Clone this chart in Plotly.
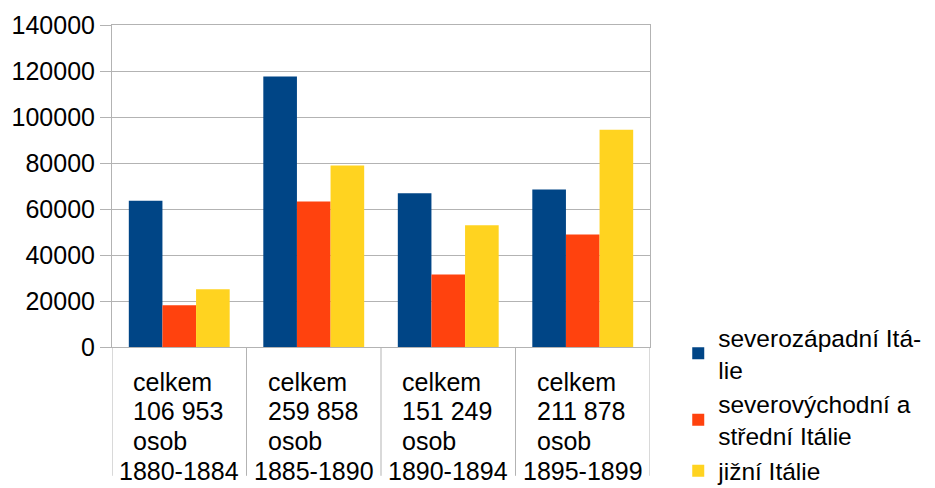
import plotly.graph_objects as go

# ---- data ----
periods = ["1880-1884", "1885-1890", "1890-1894", "1895-1899"]
totals = [106953, 259858, 151249, 211878]
series_names = ["severozápadní Itá-<br>lie", "severovýchodní a<br>střední Itálie", "jižní Itálie"]
northwest = [63600, 117600, 66800, 68500]
northeast_center = [18200, 63300, 31500, 48900]
south = [25150, 78958, 52949, 94478]
y_ticks = [0, 20000, 40000, 60000, 80000, 100000, 120000, 140000]

colors = ["#004586", "#ff420e", "#ffd320"]
FONT = "Liberation Sans, Arial, sans-serif"
GRID = "#b3b3b3"

fig = go.Figure()
for name, vals, col in zip(series_names, [northwest, northeast_center, south], colors):
    fig.add_trace(go.Bar(x=periods, y=vals, name=name, marker=dict(color=col, line=dict(width=0))))

# category labels (left-aligned block with last line centred)
annotations = []
for p, t in zip(periods, totals):
    lines = ["celkem", f"{t:,}".replace(",", " "), "osob"]
    shifts = [-35, -64, -94]
    for txt, ys in zip(lines, shifts):
        annotations.append(dict(x=p, xref="x", y=0, yref="paper", text=txt, showarrow=False,
                                xanchor="left", yanchor="middle", xshift=-48, yshift=ys,
                                font=dict(size=25, color="black", family=FONT)))
    annotations.append(dict(x=p, xref="x", y=0, yref="paper", text=p, showarrow=False,
                            xanchor="center", yanchor="middle", yshift=-124,
                            font=dict(size=25, color="black", family=FONT)))

shapes = []
for i in range(len(periods) + 1):
    shapes.append(dict(type="line", xref="x", yref="paper", x0=i - 0.5, x1=i - 0.5, y0=0, y1=-0.40,
                       line=dict(color=GRID, width=1)))

# page body adds an 8px offset, so the figure is sized to the remaining window area
fig.update_layout(
    width=927, height=480,
    margin=dict(l=104, r=285, t=17, b=141, autoexpand=False),
    paper_bgcolor="white", plot_bgcolor="white",
    font=dict(family=FONT, size=25, color="black"),
    barmode="group", bargap=0.25, bargroupgap=0,
    showlegend=True,
    legend=dict(x=1.0525, y=0.1, xanchor="left", yanchor="top", font=dict(size=24.5),
                tracegroupgap=0, itemwidth=30, bgcolor="rgba(0,0,0,0)"),
    annotations=annotations,
    shapes=shapes,
)
fig.update_xaxes(type="category", range=[-0.5, 3.5], showticklabels=False, ticks="",
                 showline=True, mirror=True, linecolor=GRID, linewidth=1, showgrid=False,
                 automargin=False)
fig.update_yaxes(range=[0, 140000], tickvals=y_ticks, ticktext=[str(v) for v in y_ticks],
                 showgrid=True, gridcolor=GRID, gridwidth=1, zeroline=False,
                 showline=True, mirror=True, linecolor=GRID, linewidth=1, automargin=False,
                 ticks="outside", ticklen=11, tickcolor=GRID, tickfont=dict(size=25, color="black"))

fig.write_html("out.html")
